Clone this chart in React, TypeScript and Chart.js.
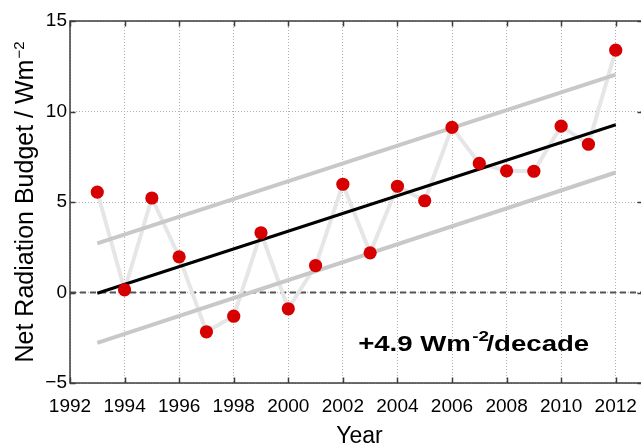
import React, { useEffect, useRef } from "react";
import { Chart, registerables } from "chart.js";

Chart.register(...registerables);

// Annual net radiation budget (W m^-2), 1993-2012
const YEARS = [1993, 1994, 1995, 1996, 1997, 1998, 1999, 2000, 2001, 2002, 2003, 2004, 2005, 2006, 2007, 2008, 2009, 2010, 2011, 2012];
const NET_BUDGET = [5.55, 0.15, 5.22, 1.97, -2.17, -1.31, 3.3, -0.9, 1.49, 5.98, 2.19, 5.87, 5.07, 9.12, 7.13, 6.72, 6.7, 9.19, 8.19, 13.39];

// Linear trend and its uncertainty envelope, at the first and last year
const FIT_YEARS = [1993, 2012];
const TREND = [-0.04, 9.27];
const UPPER = [2.71, 12.04];
const LOWER = [-2.78, 6.63];

// Axis ranges and ticks
const X_MIN = 1992;
const X_MAX = 2013;
const X_STEP = 2;
const Y_MIN = -5;
const Y_MAX = 15;
const Y_STEP = 5;

const TREND_LABEL = "+4.9 Wm";
const TREND_LABEL_SUP = "-2";
const TREND_LABEL_TAIL = "/decade";
const TREND_LABEL_AT = { x: 2002.56, y: -3.22 };

const Y_TITLE = "Net Radiation Budget / Wm";
const Y_TITLE_SUP = "\u22122";
const X_TITLE = "Year";

const FONT = "'Liberation Sans', Arial, Helvetica, sans-serif";

const pairs = (xs: number[], ys: number[]) => xs.map((x, i) => ({ x, y: ys[i] }));

const decorPlugin = {
  id: "decor",
  afterDraw(chart: any) {
    const { ctx, chartArea: a, scales } = chart;
    const xs = scales.x;
    const ys = scales.y;
    ctx.save();

    // frame with inward ticks on all four sides
    ctx.strokeStyle = "#3c3c3c";
    ctx.lineWidth = 1.5;
    ctx.strokeRect(a.left, a.top, a.right - a.left, a.bottom - a.top);
    const tl = 5.5;
    ctx.beginPath();
    xs.ticks.forEach((t: any) => {
      const px = Math.round(xs.getPixelForValue(t.value)) + 0.5;
      ctx.moveTo(px, a.bottom);
      ctx.lineTo(px, a.bottom - tl);
      ctx.moveTo(px, a.top);
      ctx.lineTo(px, a.top + tl);
    });
    ys.ticks.forEach((t: any) => {
      const py = Math.round(ys.getPixelForValue(t.value)) + 0.5;
      ctx.moveTo(a.left, py);
      ctx.lineTo(a.left + tl, py);
      ctx.moveTo(a.right, py);
      ctx.lineTo(a.right - tl, py);
    });
    ctx.stroke();

    ctx.fillStyle = "#000";
    ctx.textBaseline = "alphabetic";

    // y-axis title with superscript unit exponent
    ctx.font = `25px ${FONT}`;
    const mainW = ctx.measureText(Y_TITLE).width;
    ctx.font = `15px ${FONT}`;
    const supW = ctx.measureText(Y_TITLE_SUP).width;
    const total = mainW + supW + 1;
    const cy = (a.top + a.bottom) / 2;
    ctx.save();
    ctx.translate(33, cy + total / 2);
    ctx.rotate(-Math.PI / 2);
    ctx.textAlign = "left";
    ctx.font = `25px ${FONT}`;
    ctx.fillText(Y_TITLE, 0, 0);
    ctx.font = `15px ${FONT}`;
    ctx.fillText(Y_TITLE_SUP, mainW + 1, -9);
    ctx.restore();

    // x-axis title
    ctx.font = `23px ${FONT}`;
    ctx.textAlign = "center";
    ctx.fillText(X_TITLE, (a.left + a.right) / 2 + 3, 443);

    // trend annotation
    const ax = xs.getPixelForValue(TREND_LABEL_AT.x);
    const ay = ys.getPixelForValue(TREND_LABEL_AT.y);
    ctx.save();
    ctx.translate(ax, ay);
    ctx.scale(1.255, 1);
    ctx.textAlign = "left";
    ctx.font = `bold 22px ${FONT}`;
    const w1 = ctx.measureText(TREND_LABEL).width;
    ctx.fillText(TREND_LABEL, 0, 0);
    ctx.font = `bold 15px ${FONT}`;
    const w2 = ctx.measureText(TREND_LABEL_SUP).width;
    ctx.fillText(TREND_LABEL_SUP, w1 + 1, -9.5);
    ctx.font = `bold 22px ${FONT}`;
    ctx.fillText(TREND_LABEL_TAIL, w1 + w2 - 1, 0);
    ctx.restore();

    ctx.restore();
  },
};

export default function App() {
  const ref = useRef<HTMLCanvasElement | null>(null);

  useEffect(() => {
    if (!ref.current) return;
    const chart = new Chart(ref.current, {
      type: "scatter",
      data: {
        datasets: [
          {
            label: "zero",
            data: pairs([X_MIN, X_MAX], [0, 0]),
            showLine: true,
            borderColor: "#555555",
            borderWidth: 2,
            borderDash: [6, 4],
            pointRadius: 0,
            order: 6,
          },
          {
            label: "series",
            data: pairs(YEARS, NET_BUDGET),
            showLine: true,
            borderColor: "#e6e6e6",
            borderWidth: 4,
            pointRadius: 0,
            order: 5,
          },
          {
            label: "upper",
            data: pairs(FIT_YEARS, UPPER),
            showLine: true,
            borderColor: "#c8c8c8",
            borderWidth: 4,
            pointRadius: 0,
            order: 4,
          },
          {
            label: "lower",
            data: pairs(FIT_YEARS, LOWER),
            showLine: true,
            borderColor: "#c8c8c8",
            borderWidth: 4,
            pointRadius: 0,
            order: 3,
          },
          {
            label: "trend",
            data: pairs(FIT_YEARS, TREND),
            showLine: true,
            borderColor: "#000000",
            borderWidth: 3,
            pointRadius: 0,
            order: 2,
          },
          {
            label: "annual",
            data: pairs(YEARS, NET_BUDGET),
            showLine: false,
            pointRadius: 6.6,
            pointBackgroundColor: "#d60000",
            pointBorderWidth: 0,
            borderWidth: 0,
            order: 1,
          },
        ],
      },
      options: {
        responsive: false,
        animation: false,
        devicePixelRatio: 1,
        layout: { padding: { left: 0, right: 7, top: 21, bottom: 0 } },
        plugins: {
          legend: { display: false },
          tooltip: { enabled: false },
        },
        scales: {
          x: {
            type: "linear",
            min: X_MIN,
            max: X_MAX,
            afterFit: (s: any) => {
              s.height = 63;
              s.paddingLeft = 0;
              s.paddingRight = 0;
            },
            ticks: {
              stepSize: X_STEP,
              includeBounds: false,
              autoSkip: false,
              maxRotation: 0,
              padding: 12,
              color: "#000",
              font: { family: FONT, size: 19 },
              callback: (v: any) => String(v),
            },
            grid: { color: "#b0b0b0", lineWidth: 1, drawTicks: false },
            border: { display: false, dash: [1, 2] },
          },
          y: {
            type: "linear",
            min: Y_MIN,
            max: Y_MAX,
            afterFit: (s: any) => {
              s.width = 70;
              s.paddingTop = 0;
              s.paddingBottom = 0;
            },
            ticks: {
              stepSize: Y_STEP,
              padding: 3,
              color: "#000",
              font: { family: FONT, size: 19 },
              callback: (v: any) => String(v).replace("-", "\u2212"),
            },
            grid: { color: "#b0b0b0", lineWidth: 1, drawTicks: false },
            border: { display: false, dash: [1, 2] },
          },
        },
      },
      plugins: [decorPlugin],
    });
    return () => chart.destroy();
  }, []);

  return (
    <div style={{ position: "fixed", left: 0, top: 0, width: 641, height: 446, overflow: "hidden", background: "#fff" }}>
      <canvas ref={ref} width={650} height={446} style={{ display: "block" }} />
    </div>
  );
}
